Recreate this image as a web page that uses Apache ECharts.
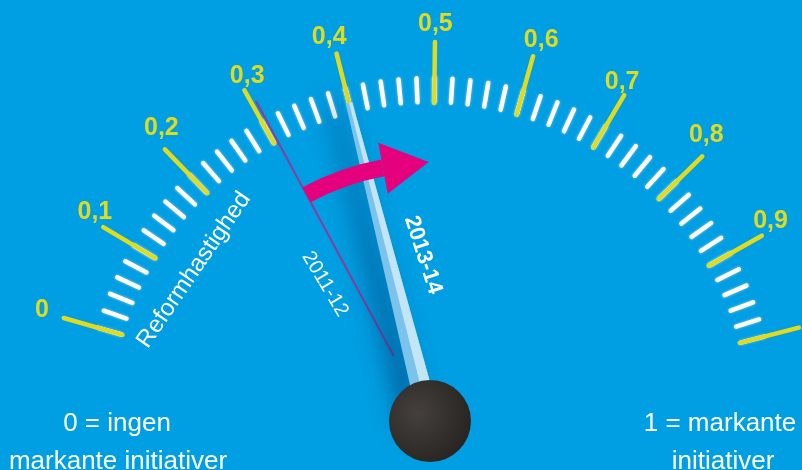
<!DOCTYPE html>
<html>
<head>
<meta charset="utf-8">
<script src="https://cdn.jsdelivr.net/npm/echarts@6/dist/echarts.min.js"></script>
<style>
html,body{margin:0;padding:0;background:#009ee2;}
#main{width:802px;height:470px;}
</style>
</head>
<body>
<div id="main"></div>
<script>
// ---- data ----
const categories = ['2011-12', '2013-14'];
const values = [0.305, 0.40];
const tickLabels = ['0', '0,1', '0,2', '0,3', '0,4', '0,5', '0,6', '0,7', '0,8', '0,9', ''];
const arrowRange = [0.305, 0.425]; // arrow body: from 2011-12 level to arrow-head base
const axisTitle = 'Reformhastighed';
const leftNote = ['0 = ingen', 'markante initiativer'];
const rightNote = ['1 = markante', 'initiativer'];

const YELLOW = '#e1db1f';
const FONT = 'Liberation Sans, Arial, sans-serif';

const chart = echarts.init(document.getElementById('main'));

function baseGauge(extra) {
  return Object.assign({
    type: 'gauge',
    center: [430, 423],
    radius: 381,
    startAngle: 164,
    endAngle: 14.5,
    min: 0,
    max: 1,
    splitNumber: 10,
    animation: false,
    silent: true,
    axisLine: { show: false, lineStyle: { width: 0 } },
    splitLine: { show: false },
    axisTick: { show: false },
    axisLabel: { show: false },
    pointer: { show: false },
    anchor: { show: false },
    progress: { show: false },
    title: { show: false },
    detail: { show: false },
    data: [{ value: 0 }]
  }, extra);
}

const series = [
  // minor ticks
  baseGauge({
    axisTick: { show: true, splitNumber: 5, distance: 36, length: 24,
      lineStyle: { color: '#ffffff', width: 4.5, cap: 'round', shadowColor: 'rgba(255,255,255,0.5)', shadowBlur: 3 } }
  }),
  // major ticks + labels
  baseGauge({
    splitLine: { show: true, distance: 0, length: 61,
      lineStyle: { color: YELLOW, width: 4.5, cap: 'round' } },
    axisLabel: { show: true, distance: -91, color: YELLOW, fontSize: 25, fontWeight: 'bold',
      fontFamily: FONT, align: 'center', verticalAlign: 'middle',
      formatter: function (v) { return tickLabels[Math.round(v * 10)]; } }
  }),
  // 2011-12 thin line
  baseGauge({
    data: [{ value: values[0], name: categories[0] }],
    pointer: { show: true, icon: 'rect', width: 2, length: 290, offsetCenter: [0, -76],
      itemStyle: { color: '#8e3b9c' } }
  }),
  // 2013-14 needle
  baseGauge({
    data: [{ value: values[1], name: categories[1] }],
    pointer: { show: true, icon: 'path://M3.5,0L6.5,0L10,100L0,100Z', width: 22, length: 330,
      offsetCenter: [0, 0],
      itemStyle: { color: '#7cc3ec', shadowColor: 'rgba(0,45,100,0.6)', shadowBlur: 24, shadowOffsetX: -16 } }
  }),
  // needle highlight + hub
  baseGauge({
    data: [{ value: values[1] }],
    pointer: { show: true, icon: 'path://M0,0M10,100M5,0L6.5,0L10,100L5,100Z', width: 22, length: 330,
      offsetCenter: [0, 0], itemStyle: { color: '#c2e5f8' } },
    anchor: { show: true, showAbove: true, size: 82, offsetCenter: [0, -2],
      itemStyle: { color: new echarts.graphic.RadialGradient(0.35, 0.4, 0.8, [
        { offset: 0, color: '#45403d' }, { offset: 1, color: '#221f1d' }]) } }
  }),
  // pink arrow
  baseGauge({
    radius: 268,
    axisLine: { show: true, lineStyle: { width: 17,
      color: [[arrowRange[0], 'rgba(0,0,0,0)'], [arrowRange[1], '#e5007d'], [1, 'rgba(0,0,0,0)']] } },
    data: [{ value: arrowRange[1] }],
    pointer: { show: true, icon: 'path://M0,0L10,5.4L0,10Z', width: 46, length: 52,
      offsetCenter: [23, -233], itemStyle: { color: '#e5007d' } }
  })
];

function txt(text, x, y, size, rotDeg, weight) {
  return {
    type: 'text', x: x, y: y, rotation: rotDeg * Math.PI / 180, silent: true,
    style: { text: text, fill: '#ffffff', fontSize: size, fontFamily: FONT,
      fontWeight: weight || 'normal', align: 'center', verticalAlign: 'middle' }
  };
}

chart.setOption({
  backgroundColor: '#009ee2',
  animation: false,
  series: series,
  graphic: [
    txt(axisTitle, 194, 270, 24, 55.6),
    txt(categories[0], 325, 284, 20, -59),
    txt(categories[1], 423, 255, 22, -72, 'bold'),
    txt(leftNote[0], 117, 424, 26, 0),
    txt(leftNote[1], 118, 462, 26, 0),
    txt(rightNote[0], 720, 424, 26, 0),
    txt(rightNote[1], 723, 462, 26, 0)
  ]
});
</script>
</body>
</html>
